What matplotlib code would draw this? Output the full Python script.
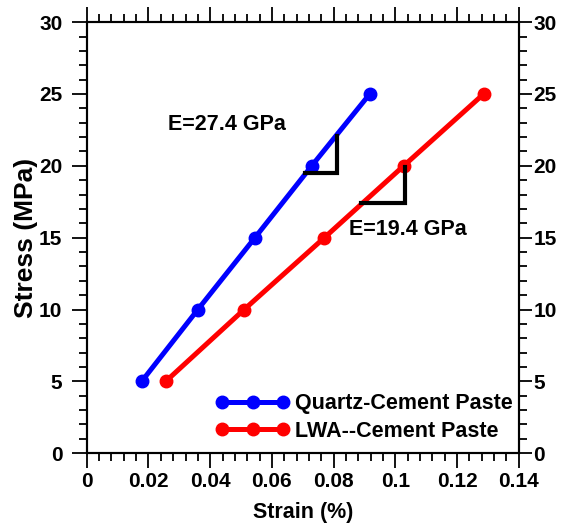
import matplotlib.pyplot as plt
from matplotlib.ticker import MultipleLocator

plt.rcParams['font.family'] = ['Liberation Sans', 'DejaVu Sans']
plt.rcParams['font.weight'] = 'bold'

# data
stress = [5, 10, 15, 20, 25]
strain_quartz = [0.0178, 0.036, 0.0545, 0.0729, 0.0917]
strain_lwa = [0.0256, 0.051, 0.077, 0.1027, 0.1286]

# slope triangles (x0, x1, y0, y1)
tri_quartz = (0.0707, 0.081, 19.5, 22.05)
tri_lwa = (0.089, 0.103, 17.4, 19.95)

fig = plt.figure(figsize=(5.67, 5.27), dpi=100)
ax = fig.add_axes([0.153, 0.14, 0.762, 0.818])

ax.plot(strain_quartz, stress, '-o', color='blue', lw=3.6, ms=9,
        label='Quartz-Cement Paste')
ax.plot(strain_lwa, stress, '-o', color='red', lw=3.6, ms=9,
        label='LWA--Cement Paste')

for x0, x1, y0, y1 in (tri_quartz, tri_lwa):
    ax.plot([x0, x1, x1], [y0, y0, y1], color='black', lw=3,
            solid_joinstyle='miter')

ax.text(0.0262, 22.9, 'E=27.4 GPa', fontsize=15.5, fontweight='bold', va='center')
ax.text(0.0849, 15.6, 'E=19.4 GPa', fontsize=15.5, fontweight='bold', va='center')

ax.set_xlim(0, 0.14)
ax.set_ylim(0, 30)
ax.xaxis.set_minor_locator(MultipleLocator(0.004))
ax.yaxis.set_major_locator(MultipleLocator(5))
ax.yaxis.set_minor_locator(MultipleLocator(1))
ax.set_xticks([0, 0.02, 0.04, 0.06, 0.08, 0.1, 0.12, 0.14])
ax.set_xticklabels(['0', '0.02', '0.04', '0.06', '0.08', '0.1', '0.12', '0.14'])

ax.tick_params(which='both', direction='out', width=1.3, labelsize=15,
               top=True, right=False)
ax.tick_params(axis='x', which='major', length=10.5, pad=3)
ax.tick_params(axis='y', which='major', length=11, pad=6.5)
ax.tick_params(which='minor', length=5.5)

# right-hand stress axis (same scale)
ax2 = ax.twinx()
ax2.set_ylim(ax.get_ylim())
ax2.yaxis.set_major_locator(MultipleLocator(5))
ax2.yaxis.set_minor_locator(MultipleLocator(1))
ax2.tick_params(which='both', direction='out', width=1.3, labelsize=15)
ax2.tick_params(which='major', length=9.5, pad=1)
ax2.tick_params(which='minor', length=5.5)

for a in (ax, ax2):
    for s in a.spines.values():
        s.set_linewidth(1.5)

ax.set_xlabel('Strain (%)', fontsize=15.5, fontweight='bold', labelpad=8)
ax.set_ylabel('Stress (MPa)', fontsize=19, fontweight='bold', labelpad=1)

ax.legend(loc='lower right', bbox_to_anchor=(1.0, 0.012), borderaxespad=0,
          borderpad=0.3, frameon=False, fontsize=15.5, handlelength=3.4,
          handletextpad=0.25, labelspacing=0.3, numpoints=3)

fig.savefig('out.png', dpi=100)
